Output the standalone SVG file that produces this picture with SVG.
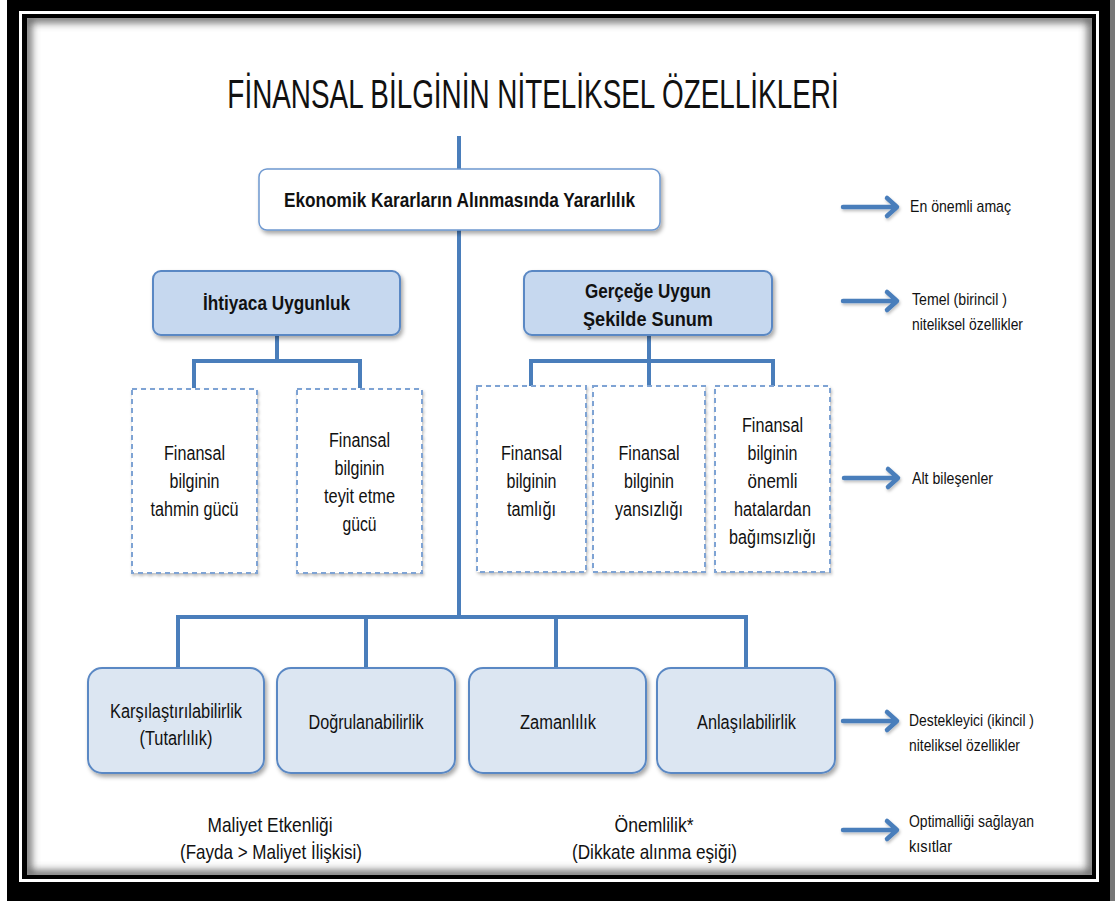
<svg xmlns="http://www.w3.org/2000/svg" width="1115" height="901" viewBox="0 0 1115 901">
  <style>
    .t { font-family: "Liberation Sans Narrow", "Liberation Sans", Arial, sans-serif; fill: #111; }
    .lbl { font-size: 20px; text-anchor: middle; }
    .bold { font-weight: bold; font-size: 21px; }
    .big { font-size: 21px; }
    .side { font-size: 17px; }
    .conn { stroke: #4A7EBB; stroke-width: 4; fill: none; }
    .dash { fill: #fff; stroke: #7EA3D4; stroke-width: 2; stroke-dasharray: 5 4; }
    .prim { fill: #C6D8EF; stroke: #5A88C4; stroke-width: 2; }
    .sec { fill: #DCE6F2; stroke: #5A88C4; stroke-width: 2; }
    .goal { fill: #fff; stroke: #6E98D0; stroke-width: 1.5; }
    .arr { stroke: #4A7EBB; stroke-width: 4.5; fill: none; stroke-linecap: round; stroke-linejoin: round; }
  </style>
  <defs>
    <filter id="shadow" x="-10%" y="-10%" width="125%" height="135%">
      <feDropShadow dx="2" dy="3" stdDeviation="2" flood-color="#000" flood-opacity="0.35"/>
    </filter>
    <filter id="soft" x="-20%" y="-20%" width="140%" height="140%">
      <feDropShadow dx="1" dy="2" stdDeviation="1.5" flood-color="#000" flood-opacity="0.25"/>
    </filter>
    <filter id="inner" x="-5%" y="-5%" width="110%" height="110%">
      <feGaussianBlur stdDeviation="4"/>
    </filter>
    <clipPath id="page">
      <rect x="27" y="18" width="1065" height="857"/>
    </clipPath>
  </defs>

  <!-- frame -->
  <rect x="0" y="0" width="1115" height="901" fill="#fff"/>
  <rect x="7" y="0" width="1103" height="901" fill="#000"/>
  <rect x="1110" y="0" width="5" height="901" fill="#777"/>
  <rect x="19" y="11" width="1080" height="871" fill="#fff"/>
  <rect x="22" y="14" width="1074" height="865" fill="#000"/>
  <rect x="27" y="18" width="1065" height="857" fill="#fff"/>
  <g clip-path="url(#page)">
    <rect x="27" y="18" width="1065" height="857" fill="none" stroke="#555" stroke-width="8" filter="url(#inner)"/>
  </g>

  <!-- title (condensed horizontally) -->
  <g transform="translate(533 108) scale(0.68 1)">
    <text class="t" x="0" y="0" font-size="41" text-anchor="middle">FİNANSAL BİLGİNİN NİTELİKSEL ÖZELLİKLERİ</text>
  </g>

  <!-- connectors -->
  <g id="connectors">
    <path class="conn" d="M459 136 V170"/>
    <path class="conn" d="M459 230 V617"/>
    <path class="conn" d="M277 335 V361 M194 388 V361 H360 V388"/>
    <path class="conn" d="M649 335 V361 M531 386 V361 H773 V386 M649 361 V386"/>
    <path class="conn" d="M178 668 V617 H746 V668 M366 617 V668 M556 617 V668"/>
  </g>

  <!-- goal -->
  <g id="n-goal">
    <rect class="goal" x="259" y="169" width="401" height="61" rx="8" filter="url(#shadow)"/>
    <text class="t lbl bold" x="459.5" y="207" textLength="351" lengthAdjust="spacingAndGlyphs">Ekonomik Kararların Alınmasında Yararlılık</text>
  </g>

  <!-- primary qualities -->
  <g id="n-relevance">
    <rect class="prim" x="153" y="271" width="247" height="64" rx="8" filter="url(#shadow)"/>
    <text class="t lbl bold" x="276.5" y="310" textLength="147" lengthAdjust="spacingAndGlyphs">İhtiyaca Uygunluk</text>
  </g>
  <g id="n-faithful">
    <rect class="prim" x="524" y="271" width="248" height="64" rx="8" filter="url(#shadow)"/>
    <text class="t lbl bold" x="648" y="298" textLength="126" lengthAdjust="spacingAndGlyphs">Gerçeğe Uygun</text>
    <text class="t lbl bold" x="648" y="326" textLength="130" lengthAdjust="spacingAndGlyphs">Şekilde Sunum</text>
  </g>

  <!-- sub components -->
  <g id="n-predictive">
    <rect class="dash" x="132" y="389" width="125" height="184" filter="url(#soft)"/>
    <text class="t lbl" x="194.5" y="460" textLength="61" lengthAdjust="spacingAndGlyphs">Finansal</text>
    <text class="t lbl" x="194.5" y="488" textLength="50" lengthAdjust="spacingAndGlyphs">bilginin</text>
    <text class="t lbl" x="194.5" y="516" textLength="88" lengthAdjust="spacingAndGlyphs">tahmin gücü</text>
  </g>
  <g id="n-confirmatory">
    <rect class="dash" x="297" y="389" width="125" height="184" filter="url(#soft)"/>
    <text class="t lbl" x="359.5" y="447" textLength="61" lengthAdjust="spacingAndGlyphs">Finansal</text>
    <text class="t lbl" x="359.5" y="475" textLength="50" lengthAdjust="spacingAndGlyphs">bilginin</text>
    <text class="t lbl" x="359.5" y="503" textLength="71" lengthAdjust="spacingAndGlyphs">teyit etme</text>
    <text class="t lbl" x="359.5" y="531" textLength="34" lengthAdjust="spacingAndGlyphs">gücü</text>
  </g>
  <g id="n-complete">
    <rect class="dash" x="477" y="386" width="109" height="186" filter="url(#soft)"/>
    <text class="t lbl" x="531.5" y="460" textLength="61" lengthAdjust="spacingAndGlyphs">Finansal</text>
    <text class="t lbl" x="531.5" y="488" textLength="50" lengthAdjust="spacingAndGlyphs">bilginin</text>
    <text class="t lbl" x="531.5" y="516" textLength="49" lengthAdjust="spacingAndGlyphs">tamlığı</text>
  </g>
  <g id="n-neutral">
    <rect class="dash" x="593" y="386" width="112" height="186" filter="url(#soft)"/>
    <text class="t lbl" x="649" y="460" textLength="61" lengthAdjust="spacingAndGlyphs">Finansal</text>
    <text class="t lbl" x="649" y="488" textLength="50" lengthAdjust="spacingAndGlyphs">bilginin</text>
    <text class="t lbl" x="649" y="516" textLength="68" lengthAdjust="spacingAndGlyphs">yansızlığı</text>
  </g>
  <g id="n-error-free">
    <rect class="dash" x="715" y="386" width="115" height="186" filter="url(#soft)"/>
    <text class="t lbl" x="772.5" y="432" textLength="61" lengthAdjust="spacingAndGlyphs">Finansal</text>
    <text class="t lbl" x="772.5" y="460" textLength="50" lengthAdjust="spacingAndGlyphs">bilginin</text>
    <text class="t lbl" x="772.5" y="488" textLength="50" lengthAdjust="spacingAndGlyphs">önemli</text>
    <text class="t lbl" x="772.5" y="516" textLength="77" lengthAdjust="spacingAndGlyphs">hatalardan</text>
    <text class="t lbl" x="772.5" y="544" textLength="87" lengthAdjust="spacingAndGlyphs">bağımsızlığı</text>
  </g>

  <!-- enhancing qualities -->
  <g id="n-comparability">
    <rect class="sec" x="88" y="668" width="176" height="105" rx="14" filter="url(#shadow)"/>
    <text class="t lbl" x="176" y="718" textLength="132" lengthAdjust="spacingAndGlyphs">Karşılaştırılabilirlik</text>
    <text class="t lbl" x="176" y="745" textLength="73" lengthAdjust="spacingAndGlyphs">(Tutarlılık)</text>
  </g>
  <g id="n-verifiability">
    <rect class="sec" x="277" y="668" width="178" height="105" rx="14" filter="url(#shadow)"/>
    <text class="t lbl" x="366" y="729" textLength="115" lengthAdjust="spacingAndGlyphs">Doğrulanabilirlik</text>
  </g>
  <g id="n-timeliness">
    <rect class="sec" x="469" y="668" width="177" height="105" rx="14" filter="url(#shadow)"/>
    <text class="t lbl" x="558" y="729" textLength="76" lengthAdjust="spacingAndGlyphs">Zamanlılık</text>
  </g>
  <g id="n-understandability">
    <rect class="sec" x="657" y="668" width="178" height="105" rx="14" filter="url(#shadow)"/>
    <text class="t lbl" x="746.5" y="729" textLength="99" lengthAdjust="spacingAndGlyphs">Anlaşılabilirlik</text>
  </g>

  <!-- constraints -->
  <g id="n-cost">
    <text class="t lbl big" x="270" y="832" textLength="125" lengthAdjust="spacingAndGlyphs">Maliyet Etkenliği</text>
    <text class="t lbl big" x="271" y="859" textLength="182" lengthAdjust="spacingAndGlyphs">(Fayda &gt; Maliyet İlişkisi)</text>
  </g>
  <g id="n-materiality">
    <text class="t lbl big" x="654" y="832" textLength="79" lengthAdjust="spacingAndGlyphs">Önemlilik*</text>
    <text class="t lbl big" x="654.5" y="859" textLength="165" lengthAdjust="spacingAndGlyphs">(Dikkate alınma eşiği)</text>
  </g>

  <!-- legend arrows -->
  <g id="legend">
    <g filter="url(#soft)">
      <path class="arr" d="M843 207 H896 M887 198 L897 207 L887 216"/>
      <path class="arr" d="M843 301 H896 M887 292 L897 301 L887 310"/>
      <path class="arr" d="M844 478 H897 M888 469 L898 478 L888 487"/>
      <path class="arr" d="M843 721 H896 M887 712 L897 721 L887 730"/>
      <path class="arr" d="M843 830 H896 M887 821 L897 830 L887 839"/>
    </g>
    <text class="t side" x="910" y="212" textLength="101" lengthAdjust="spacingAndGlyphs">En önemli amaç</text>
    <text class="t side" x="912" y="305" textLength="95" lengthAdjust="spacingAndGlyphs">Temel (birincil )</text>
    <text class="t side" x="912" y="330" textLength="111" lengthAdjust="spacingAndGlyphs">niteliksel özellikler</text>
    <text class="t side" x="912" y="484" textLength="81" lengthAdjust="spacingAndGlyphs">Alt bileşenler</text>
    <text class="t side" x="909" y="726" textLength="125" lengthAdjust="spacingAndGlyphs">Destekleyici (ikincil )</text>
    <text class="t side" x="909" y="751" textLength="111" lengthAdjust="spacingAndGlyphs">niteliksel özellikler</text>
    <text class="t side" x="909" y="827" textLength="125" lengthAdjust="spacingAndGlyphs">Optimalliği sağlayan</text>
    <text class="t side" x="909" y="852" textLength="43" lengthAdjust="spacingAndGlyphs">kısıtlar</text>
  </g>
</svg>
